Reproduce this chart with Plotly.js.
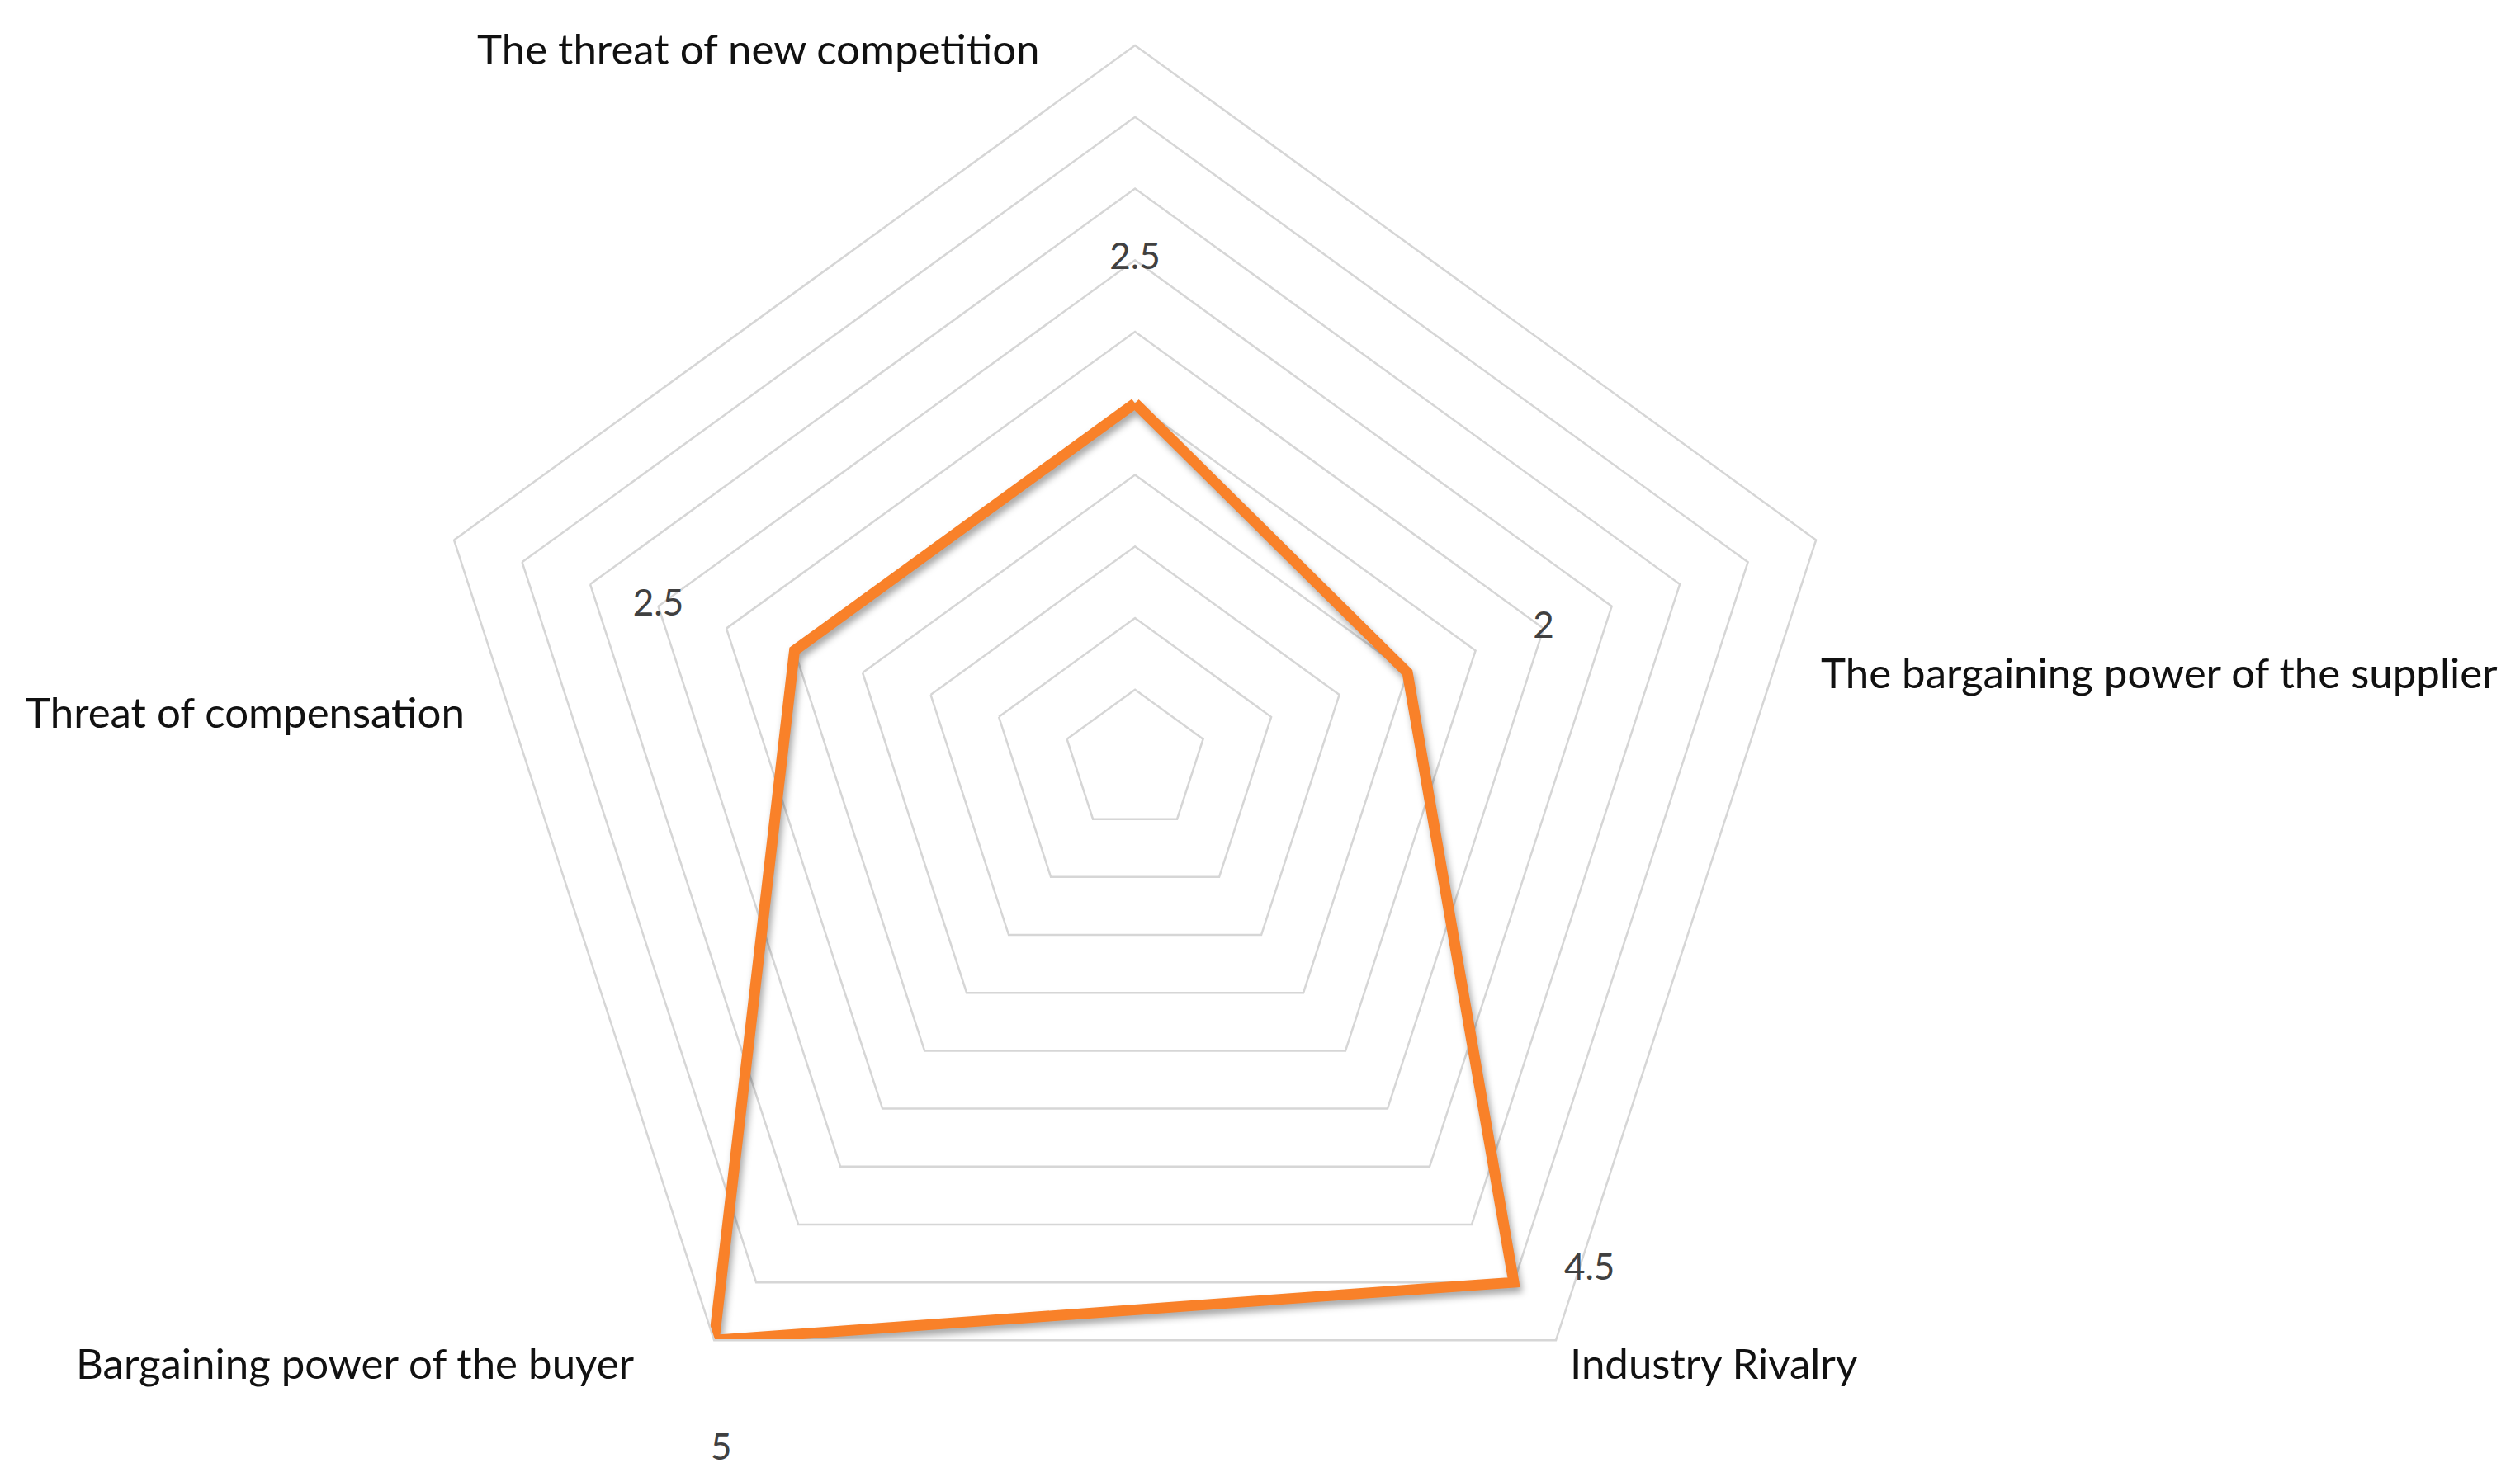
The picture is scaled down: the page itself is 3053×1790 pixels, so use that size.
<!DOCTYPE html>
<html>
<head>
<meta charset="utf-8">
<script src="https://cdn.plot.ly/plotly-3.0.1.min.js"></script>
<style>
  html, body { margin: 0; padding: 0; background: #ffffff; }
  #radarPlot { width: 3053px; height: 1790px; }
  /* soft Excel-like shadow under the score outline */
  #radarPlot .scatterlayer path.js-line { filter: drop-shadow(3px 6px 4px rgba(0,0,0,0.35)); }
</style>
</head>
<body>
<div id="radarPlot"></div>
<script>
// Porter's five forces, scored 0..5
const forces = ["The threat of new competition",
                "The bargaining power of the supplier",
                "Industry Rivalry",
                "Bargaining power of the buyer",
                "Threat of compensation"];
const scores = [2.5, 2, 4.5, 5, 2.5];

// where Excel put the value labels: shift outward (r), sideways (deg),
// and an invisible spacer marker to push the text below its anchor
const labelShiftR = [1, 1, 0.27, 0, 1];
const labelShiftDeg = [0, 0, -5.7, -0.7, 0];
const labelSpacer = [0, 0, 0, 168, 0];
const labelPlace = ['middle center', 'middle center', 'middle center',
                    'bottom center', 'middle center'];

// category label boxes, in pixels of the 3053x1790 page
const catLabelPos = [
  {x: 1262, y: 58, anchor: 'right'},
  {x: 2204, y: 814, anchor: 'left'},
  {x: 1900, y: 1651, anchor: 'left'},
  {x: 771, y: 1651, anchor: 'right'},
  {x: 565, y: 862, anchor: 'right'}
];

const W = 3053, H = 1790;
const rMax = 5;
const gridGrey = '#d6d6d6';
const lineOrange = '#f98129';
const fontFace = 'Lato, "Open Sans", sans-serif';

function closeLoop(arr){
  return arr.concat([arr[0]]);
}

var scoreTrace = {
  type: 'scatterpolar',
  subplot: 'polar',
  r: closeLoop(scores),
  theta: closeLoop(forces),
  mode: 'lines',
  line: {color: lineOrange, width: 13},
  hoverinfo: 'skip',
  showlegend: false
};

// value labels in a numeric overlay so they can sit off the spokes
var labelR = [];
var labelTheta = [];
var labelText = [];
for(var i=0; i<scores.length; i++){
  labelR.push(scores[i] + labelShiftR[i]);
  labelTheta.push(i * 360 / forces.length + labelShiftDeg[i]);
  labelText.push(String(scores[i]));
}
var labelTrace = {
  type: 'scatterpolar',
  subplot: 'polar2',
  r: labelR,
  theta: labelTheta,
  mode: 'markers+text',
  marker: {size: labelSpacer, opacity: 0},
  text: labelText,
  textposition: labelPlace,
  textfont: {family: fontFace, size: 44, color: '#404040'},
  cliponaxis: false,
  hoverinfo: 'skip',
  showlegend: false
};

var annotations = [];
for(var i=0; i<forces.length; i++){
  annotations.push({
    xref: 'paper', yref: 'paper',
    x: catLabelPos[i].x / W,
    y: 1 - catLabelPos[i].y / H,
    xanchor: catLabelPos[i].anchor,
    yanchor: 'middle',
    text: forces[i],
    showarrow: false,
    font: {family: fontFace, size: 51, color: '#111111'}
  });
}

var dom = {x: [0.1655, 0.7353], y: [0.0, 0.9693]};

var layout = {
  width: W,
  height: H,
  margin: {l: 0, r: 0, t: 0, b: 0},
  paper_bgcolor: '#ffffff',
  showlegend: false,
  annotations: annotations,
  polar: {
    domain: dom,
    gridshape: 'linear',
    bgcolor: 'rgba(0,0,0,0)',
    radialaxis: {
      range: [0, rMax],
      dtick: 0.5,
      showticklabels: false,
      ticks: '',
      showline: false,
      gridcolor: gridGrey,
      gridwidth: 2.5
    },
    angularaxis: {
      rotation: 90,
      direction: 'clockwise',
      showticklabels: false,
      ticks: '',
      showgrid: false,
      showline: true,
      linecolor: gridGrey,
      linewidth: 2.5
    }
  },
  polar2: {
    domain: dom,
    bgcolor: 'rgba(0,0,0,0)',
    radialaxis: {
      range: [0, rMax],
      visible: false
    },
    angularaxis: {
      rotation: 90,
      direction: 'clockwise',
      visible: false
    }
  }
};

Plotly.newPlot('radarPlot', [scoreTrace, labelTrace], layout, {staticPlot: true});
</script>
</body>
</html>
